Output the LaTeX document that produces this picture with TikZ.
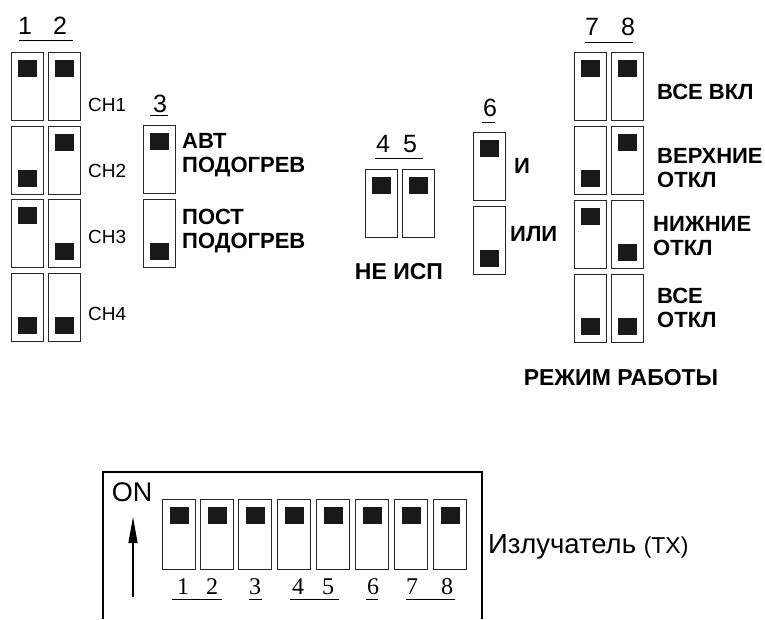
\documentclass[tikz,border=0pt]{standalone}
\usepackage{fontspec}
\setmainfont{Liberation Sans}
\newfontfamily\serifdig{Liberation Serif}
\usetikzlibrary{arrows.meta,calc}
\tikzset{
  swbox/.style={draw=black!85, line width=1.3pt, fill=white, minimum width=32pt, minimum height=68pt, inner sep=0pt, anchor=north west},
  knob/.style={fill=black!90, draw=none, minimum width=19pt, minimum height=17pt, inner sep=0pt},
  chl/.style={font=\fontsize{19}{19}\selectfont, anchor=west, inner sep=0pt},
  bl/.style={font=\fontsize{22}{24}\selectfont\bfseries, anchor=west, inner sep=0pt, align=left},
  blbig/.style={font=\fontsize{23}{24}\selectfont\bfseries, inner sep=0pt},
  dig/.style={font=\fontsize{25}{25}\selectfont, inner sep=0pt},
  sdig/.style={font=\fontsize{24}{24}\selectfont\serifdig, inner sep=0pt},
  uline/.style={line width=1pt},
}
\newcommand{\swup}[3]{%
  \node[swbox] (#1) at (#2,#3) {};
  \node[knob, anchor=north] (#1k) at ($(#1.north)+(0,8)$) {};}
\newcommand{\swdn}[3]{%
  \node[swbox] (#1) at (#2,#3) {};
  \node[knob, anchor=south] (#1k) at ($(#1.south)+(0,-8)$) {};}
\begin{document}
\begin{tikzpicture}[x=1pt,y=-1pt]
\useasboundingbox (0,0) rectangle (765,619);
% ---- switches 1,2
\node[dig] (n1) at (25,26) {1};
\node[dig] (n2) at (60,26) {2};
\draw[uline] (19,40) -- (73,40);
\swup{a1}{11}{52} \swup{b1}{48}{52}
\swdn{a2}{11}{126} \swup{b2}{48}{126}
\swup{a3}{11}{199} \swdn{b3}{48}{199}
\swdn{a4}{11}{273} \swdn{b4}{48}{273}
\node[chl] (ch1) at (88,105) {CH1};
\node[chl] (ch2) at (88,171) {CH2};
\node[chl] (ch3) at (88,237) {CH3};
\node[chl] (ch4) at (88,314) {CH4};
% ---- switch 3
\node[dig] (n3) at (160,104) {3};
\draw[uline] (150,115) -- (168,115);
\swup{c1}{143}{125}
\swdn{c2}{143}{199}
\node[bl] (avt) at (182,155) {АВТ\\ПОДОГРЕВ};
\node[bl] (post) at (182,231) {ПОСТ\\ПОДОГРЕВ};
% ---- switches 4,5
\node[dig] (n4) at (383,144) {4};
\node[dig] (n5) at (410,144) {5};
\draw[uline] (375,158) -- (423,158);
\swup{d4}{365}{169} \swup{d5}{402}{169}
\node[blbig] (neisp) at (399,272) {НЕ ИСП};
% ---- switch 6
\node[dig] (n6) at (490,108) {6};
\draw[uline] (482,122) -- (495,122);
\swup{e1}{473}{132}
\swdn{e2}{473}{206}
\node[bl] (i) at (514,166) {И};
\node[bl] (ili) at (510,234) {ИЛИ};
% ---- switches 7,8
\node[dig] (n7) at (592,27) {7};
\node[dig] (n8) at (628,27) {8};
\draw[uline] (585,42) -- (633,42);
\swup{f1}{574}{52} \swup{g1}{611}{52}
\swdn{f2}{574}{126} \swup{g2}{611}{126}
\swup{f3}{574}{200} \swdn{g3}{611}{200}
\swdn{f4}{574}{274} \swdn{g4}{611}{274}
\node[bl] (vsevkl) at (657,92) {ВСЕ ВКЛ};
\node[bl] (verh) at (657,168) {ВЕРХНИЕ\\ОТКЛ};
\node[bl] (nizh) at (653,236) {НИЖНИЕ\\ОТКЛ};
\node[bl] (vseotkl) at (657,308) {ВСЕ\\ОТКЛ};
\node[blbig] (rezhim) at (621,378) {РЕЖИМ РАБОТЫ};
% ---- bottom panel
\draw[line width=1.2pt] (103,619) -- (103,472) -- (482,472) -- (482,619);
\node[font=\fontsize{27}{27}\selectfont, inner sep=0pt] (on) at (132,492) {ON};
\coordinate (arrs) at (133,597);
\coordinate (arre) at (133,517);
\draw[line width=1.1pt, -{Triangle[length=26pt,width=9pt]}] (arrs) -- (arre);
\foreach \i/\xx in {1/162,2/200,3/238,4/277,5/316,6/355,7/394,8/433}{
  \node[swbox, minimum width=33pt, minimum height=70pt] (p\i) at (\xx,499) {};
  \node[knob, anchor=north] (p\i k) at ($(p\i.north)+(0,8)$) {};
}
\node[sdig] (b1) at (183,587) {1};
\node[sdig] (b2) at (212,587) {2};
\node[sdig] (b3) at (255,587) {3};
\node[sdig] (b4) at (298,587) {4};
\node[sdig] (b5) at (328,587) {5};
\node[sdig] (b6) at (373,587) {6};
\node[sdig] (b7) at (412,587) {7};
\node[sdig] (b8) at (447,587) {8};
\draw[uline] (172,599) -- (222,599);
\draw[uline] (249,599) -- (262,599);
\draw[uline] (290,599) -- (339,599);
\draw[uline] (366,599) -- (378,599);
\draw[uline] (406,599) -- (455,599);
\node[anchor=west, inner sep=0pt, font=\fontsize{27.5}{27}\selectfont] (tx) at (488,547) {Излучатель {\fontsize{23}{23}\selectfont(TX)}};
\end{tikzpicture}
\end{document}
